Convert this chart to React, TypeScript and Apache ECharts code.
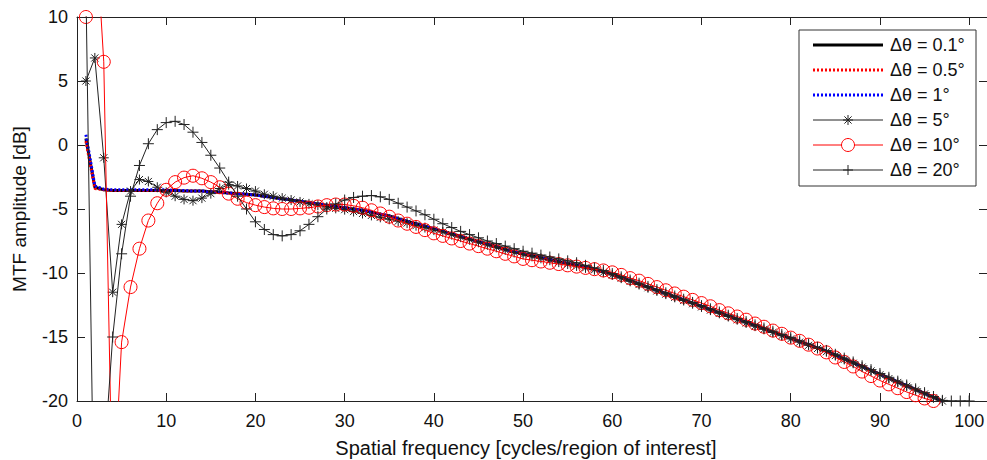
import React, { useEffect, useRef } from "react";
import * as echarts from "echarts";

// Spatial frequency samples (cycles / region of interest)
const freq = [
  1, 2, 3, 4, 5, 6, 7, 8, 9, 10, 11, 12, 13, 14, 15, 16, 17, 18, 19, 20,
  21, 22, 23, 24, 25, 26, 27, 28, 29, 30, 31, 32, 33, 34, 35, 36, 37, 38, 39, 40,
  41, 42, 43, 44, 45, 46, 47, 48, 49, 50, 51, 52, 53, 54, 55, 56, 57, 58, 59, 60,
  61, 62, 63, 64, 65, 66, 67, 68, 69, 70, 71, 72, 73, 74, 75, 76, 77, 78, 79, 80,
  81, 82, 83, 84, 85, 86, 87, 88, 89, 90, 91, 92, 93, 94, 95, 96, 97, 98, 99, 100,
];

// MTF amplitude [dB]
const mtf01 = [
  0.5, -3.3, -3.5, -3.55, -3.55, -3.55, -3.55, -3.55, -3.55, -3.55,
  -3.55, -3.6, -3.6, -3.6, -3.65, -3.7, -3.75, -3.8, -3.85, -3.9,
  -4.0, -4.1, -4.2, -4.3, -4.4, -4.5, -4.6, -4.7, -4.8, -4.9,
  -5.0, -5.1, -5.25, -5.4, -5.55, -5.75, -5.95, -6.15, -6.35, -6.55,
  -6.75, -6.95, -7.15, -7.35, -7.55, -7.75, -7.95, -8.15, -8.35, -8.5,
  -8.65, -8.8, -8.95, -9.1, -9.25, -9.4, -9.55, -9.7, -9.9, -10.1,
  -10.35, -10.6, -10.85, -11.1, -11.35, -11.6, -11.85, -12.1, -12.35, -12.6,
  -12.85, -13.1, -13.35, -13.6, -13.85, -14.1, -14.35, -14.6, -14.85, -15.1,
  -15.35, -15.6, -15.85, -16.1, -16.4, -16.7, -17.0, -17.3, -17.6, -17.9,
  -18.2, -18.5, -18.8, -19.1, -19.4, -19.7, -20.0,
];
const mtf05 = [
  0.3, -3.4, -3.5, -3.55, -3.55, -3.55, -3.55, -3.55, -3.55, -3.55,
  -3.55, -3.6, -3.6, -3.6, -3.65, -3.7, -3.75, -3.8, -3.85, -3.9,
  -4.0, -4.1, -4.2, -4.3, -4.4, -4.5, -4.6, -4.7, -4.8, -4.9,
  -5.0, -5.1, -5.25, -5.4, -5.55, -5.75, -5.95, -6.15, -6.35, -6.55,
  -6.75, -6.95, -7.15, -7.35, -7.55, -7.75, -7.95, -8.15, -8.35, -8.5,
  -8.65, -8.8, -8.95, -9.1, -9.25, -9.4, -9.55, -9.7, -9.9, -10.1,
  -10.35, -10.6, -10.85, -11.1, -11.35, -11.6, -11.85, -12.1, -12.35, -12.6,
  -12.85, -13.1, -13.35, -13.6, -13.85, -14.1, -14.35, -14.6, -14.85, -15.1,
  -15.35, -15.6, -15.85, -16.1, -16.4, -16.7, -17.0, -17.3, -17.6, -17.9,
  -18.2, -18.5, -18.8, -19.1, -19.4, -19.7, -20.0,
];
const mtf1 = [
  0.8, -3.2, -3.45, -3.5, -3.5, -3.5, -3.5, -3.5, -3.5, -3.5,
  -3.55, -3.55, -3.6, -3.6, -3.65, -3.7, -3.75, -3.8, -3.85, -3.9,
  -4.0, -4.1, -4.2, -4.3, -4.4, -4.5, -4.6, -4.7, -4.8, -4.9,
  -5.0, -5.1, -5.25, -5.4, -5.55, -5.75, -5.95, -6.15, -6.35, -6.55,
  -6.75, -6.95, -7.15, -7.35, -7.55, -7.75, -7.95, -8.15, -8.35, -8.5,
  -8.65, -8.8, -8.95, -9.1, -9.25, -9.4, -9.55, -9.7, -9.9, -10.1,
  -10.35, -10.6, -10.85, -11.1, -11.35, -11.6, -11.85, -12.1, -12.35, -12.6,
  -12.85, -13.1, -13.35, -13.6, -13.85, -14.1, -14.35, -14.6, -14.85, -15.1,
  -15.35, -15.6, -15.85, -16.1, -16.4, -16.7, -17.0, -17.3, -17.6, -17.9,
  -18.2, -18.5, -18.8, -19.1, -19.4, -19.7, -20.0,
];
const mtf5 = [
  5.0, 6.8, -1.0, -11.5, -6.2, -3.6, -2.7, -2.85, -3.3, -3.7,
  -4.0, -4.25, -4.35, -4.15, -3.8, -3.4, -3.1, -3.2, -3.4, -3.6,
  -3.85, -4.0, -4.15, -4.3, -4.45, -4.6, -4.7, -4.85, -4.95, -5.05,
  -5.2, -5.35, -5.5, -5.65, -5.8, -5.95, -6.1, -6.3, -6.45, -6.65,
  -6.8, -7.0, -7.2, -7.4, -7.6, -7.8, -8.0, -8.2, -8.4, -8.55,
  -8.7, -8.85, -9.0, -9.15, -9.3, -9.45, -9.6, -9.75, -9.95, -10.15,
  -10.4, -10.65, -10.9, -11.15, -11.4, -11.65, -11.9, -12.15, -12.4, -12.65,
  -12.9, -13.15, -13.4, -13.65, -13.9, -14.15, -14.4, -14.65, -14.9, -15.15,
  -15.4, -15.65, -15.9, -16.15, -16.45, -16.75, -17.05, -17.35, -17.65, -17.95,
  -18.25, -18.55, -18.85, -19.15, -19.45, -19.75, -20.0,
];
const mtf10 = [
  10.0, 18.0, 6.5, -29.0, -15.4, -11.1, -8.1, -5.9, -4.55, -3.5,
  -2.9, -2.55, -2.4, -2.6, -2.9, -3.3, -3.8, -4.2, -4.5, -4.7,
  -4.85, -4.95, -5.0, -5.0, -4.95, -4.9, -4.8, -4.7, -4.65, -4.65,
  -4.75, -4.9, -5.1, -5.35, -5.6, -5.9, -6.15, -6.4, -6.65, -6.9,
  -7.1, -7.3, -7.5, -7.7, -7.9, -8.1, -8.3, -8.5, -8.7, -8.9,
  -9.0, -9.1, -9.2, -9.3, -9.4, -9.5, -9.6, -9.7, -9.8, -9.95,
  -10.15, -10.4, -10.6, -10.85, -11.1, -11.35, -11.6, -11.85, -12.1, -12.35,
  -12.6, -12.9, -13.15, -13.4, -13.65, -13.95, -14.2, -14.5, -14.75, -15.05,
  -15.3, -15.6, -15.9, -16.2, -16.6, -16.95, -17.3, -17.7, -18.05, -18.4,
  -18.7, -19.0, -19.3, -19.55, -19.8, -20.0,
];
const mtf20 = [
  12.3, -34.0, -25.0, -15.0, -8.5, -4.0, -1.6, 0.1, 1.2, 1.75,
  1.85, 1.6, 1.0, 0.2, -0.8, -1.8, -2.9, -4.0, -5.0, -6.0,
  -6.6, -7.0, -7.1, -7.0, -6.7, -6.2, -5.6, -5.0, -4.6, -4.3,
  -4.1, -4.0, -3.95, -4.05, -4.25, -4.55, -4.85, -5.15, -5.45, -5.8,
  -6.15, -6.45, -6.75, -7.0, -7.25, -7.5, -7.7, -7.9, -8.1, -8.3,
  -8.45, -8.6, -8.75, -8.9, -9.05, -9.2, -9.4, -9.6, -9.8, -10.05,
  -10.3, -10.55, -10.8, -11.05, -11.3, -11.55, -11.8, -12.05, -12.3, -12.55,
  -12.8, -13.05, -13.3, -13.55, -13.8, -14.05, -14.3, -14.55, -14.8, -15.05,
  -15.3, -15.55, -15.8, -16.05, -16.35, -16.65, -16.95, -17.25, -17.55, -17.85,
  -18.15, -18.45, -18.75, -19.05, -19.35, -19.65, -19.95, -20.0, -20.0, -20.0,
];

const seriesNames = ["Δθ = 0.1°", "Δθ = 0.5°", "Δθ = 1°", "Δθ = 5°", "Δθ = 10°", "Δθ = 20°"];
const xTicks = [0, 10, 20, 30, 40, 50, 60, 70, 80, 90, 100];

const FONT = '"Liberation Sans", Arial, Helvetica, sans-serif';
const AXIS = "#222";
const ASTERISK = "path://M5,0L5,10M0,5L10,5M1.46,1.46L8.54,8.54M1.46,8.54L8.54,1.46";
const PLUS = "path://M5,0L5,10M0,5L10,5";

const pair = (vals: number[]) => vals.map((v, i) => [freq[i], v]);

export default function App() {
  const ref = useRef<HTMLDivElement>(null);
  useEffect(() => {
    if (!ref.current) return;
    const chart = echarts.init(ref.current, null, { renderer: "svg" });

    const gl = { left: 77, top: 17, width: 910, height: 384 };

    // legend graphics
    const lx = 799, ly = 30, lw = 177, lh = 156;
    const legendEls: any[] = [
      { type: "rect", shape: { x: lx, y: ly, width: lw, height: lh }, style: { fill: "#fff", stroke: "#333", lineWidth: 1 }, z: 100 },
    ];
    const styles = [
      { color: "#000", width: 3, dash: null as any, marker: null as any },
      { color: "#f00", width: 3, dash: [2, 2], marker: null },
      { color: "#00f", width: 3, dash: [2, 2], marker: null },
      { color: "#222", width: 1, dash: null, marker: "asterisk" },
      { color: "#f00", width: 1, dash: null, marker: "circle" },
      { color: "#222", width: 1, dash: null, marker: "plus" },
    ];
    seriesNames.forEach((name, i) => {
      const y = 45 + 25 * i;
      const s = styles[i];
      legendEls.push({
        type: "line", z: 101,
        shape: { x1: 813, y1: y, x2: 883, y2: y },
        style: { stroke: s.color, lineWidth: s.width, lineDash: s.dash || undefined },
      });
      const cx = 848;
      if (s.marker === "circle") {
        legendEls.push({ type: "circle", z: 102, shape: { cx, cy: y, r: 6.5 }, style: { fill: "#fff", stroke: s.color, lineWidth: 1 } });
      } else if (s.marker === "plus" || s.marker === "asterisk") {
        const r = 5;
        legendEls.push({ type: "line", z: 102, shape: { x1: cx, y1: y - r, x2: cx, y2: y + r }, style: { stroke: s.color, lineWidth: 1 } });
        legendEls.push({ type: "line", z: 102, shape: { x1: cx - r, y1: y, x2: cx + r, y2: y }, style: { stroke: s.color, lineWidth: 1 } });
        if (s.marker === "asterisk") {
          const d = 3.6;
          legendEls.push({ type: "line", z: 102, shape: { x1: cx - d, y1: y - d, x2: cx + d, y2: y + d }, style: { stroke: s.color, lineWidth: 1 } });
          legendEls.push({ type: "line", z: 102, shape: { x1: cx - d, y1: y + d, x2: cx + d, y2: y - d }, style: { stroke: s.color, lineWidth: 1 } });
        }
      }
      legendEls.push({
        type: "text", z: 102, x: 890, y,
        style: { text: name, fill: "#111", font: `18px ${FONT}`, verticalAlign: "middle", textAlign: "left" },
      });
    });

    const tickStyle = { color: AXIS, width: 1 };
    const option: any = {
      animation: false,
      backgroundColor: "#fff",
      grid: { ...gl, containLabel: false, outerBoundsMode: "none" },
      xAxis: [
        {
          type: "value", min: 0, max: 102, position: "bottom",
          name: "Spatial frequency [cycles/region of interest]",
          nameLocation: "middle", nameGap: 37,
          nameTextStyle: { fontFamily: FONT, fontSize: 20, color: "#111", padding: [0, 12, 0, 0] },
          axisLine: { show: true, onZero: false, lineStyle: tickStyle },
          axisTick: { show: true, inside: true, length: 8, customValues: xTicks, lineStyle: tickStyle },
          axisLabel: { customValues: xTicks, fontFamily: FONT, fontSize: 18, color: "#111", margin: 11 },
          splitLine: { show: false },
        },
        {
          type: "value", min: 0, max: 102, position: "top",
          axisLine: { show: true, onZero: false, lineStyle: tickStyle },
          axisTick: { show: true, inside: true, length: 8, customValues: xTicks, lineStyle: tickStyle },
          axisLabel: { show: false },
          splitLine: { show: false },
        },
      ],
      yAxis: [
        {
          type: "value", min: -20, max: 10, interval: 5, position: "left",
          name: "MTF amplitude [dB]", nameLocation: "middle", nameGap: 48,
          nameTextStyle: { fontFamily: FONT, fontSize: 19, color: "#111" },
          axisLine: { show: true, onZero: false, lineStyle: tickStyle },
          axisTick: { show: true, inside: true, length: 8, lineStyle: tickStyle },
          axisLabel: { fontFamily: FONT, fontSize: 18, color: "#111", margin: 9 },
          splitLine: { show: false },
        },
        {
          type: "value", min: -20, max: 10, interval: 5, position: "right",
          axisLine: { show: true, onZero: false, lineStyle: tickStyle },
          axisTick: { show: true, inside: true, length: 8, lineStyle: tickStyle },
          axisLabel: { show: false },
          splitLine: { show: false },
        },
      ],
      graphic: legendEls,
      series: [
        {
          name: seriesNames[0], type: "line", data: pair(mtf01), symbol: "none",
          lineStyle: { color: "#000", width: 3 }, itemStyle: { color: "#000" }, silent: true, z: 2,
        },
        {
          name: seriesNames[1], type: "line", data: pair(mtf05), symbol: "none",
          lineStyle: { color: "#f00", width: 3, type: [2, 2] }, itemStyle: { color: "#f00" }, silent: true, z: 3,
        },
        {
          name: seriesNames[2], type: "line", data: pair(mtf1), symbol: "none",
          lineStyle: { color: "#00f", width: 3, type: [2, 2] }, itemStyle: { color: "#00f" }, silent: true, z: 4,
        },
        {
          name: seriesNames[3], type: "line", data: pair(mtf5), symbol: ASTERISK, symbolSize: 10,
          showAllSymbol: true, symbolKeepAspect: true,
          lineStyle: { color: "#222", width: 1 },
          itemStyle: { color: "#222", borderColor: "#222", borderWidth: 1 }, silent: true, z: 5,
        },
        {
          name: seriesNames[4], type: "line", data: pair(mtf10), symbol: "circle", symbolSize: 13,
          showAllSymbol: true,
          lineStyle: { color: "#f00", width: 1 },
          itemStyle: { color: "rgba(0,0,0,0)", borderColor: "#f00", borderWidth: 1 }, silent: true, z: 6,
        },
        {
          name: seriesNames[5], type: "line", data: pair(mtf20), symbol: PLUS, symbolSize: 11,
          showAllSymbol: true, symbolKeepAspect: true,
          lineStyle: { color: "#222", width: 1 },
          itemStyle: { color: "#222", borderColor: "#222", borderWidth: 1 }, silent: true, z: 7,
        },
      ],
    };
    chart.setOption(option);
    return () => chart.dispose();
  }, []);

  return (
    <div
      ref={ref}
      style={{ position: "absolute", left: 0, top: 0, width: 987, height: 460, background: "#fff" }}
    />
  );
}
